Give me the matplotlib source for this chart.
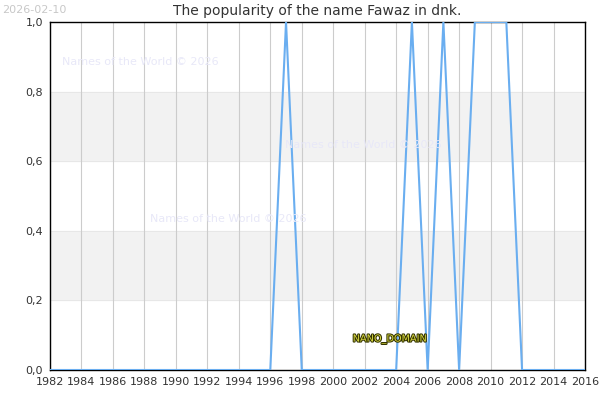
import numpy as np
import matplotlib
matplotlib.use("Agg")
import matplotlib.pyplot as plt
import matplotlib.patheffects as pe

# popularity per year (1982-2016)
years = list(range(1982, 2017))
peak_years = [1997, 2005, 2007, 2009, 2010, 2011]
values = [1.0 if y in peak_years else 0.0 for y in years]

xticks = list(range(1982, 2017, 2))
yticks = [0.0, 0.2, 0.4, 0.6, 0.8, 1.0]
ytick_labels = ["0,0", "0,2", "0,4", "0,6", "0,8", "1,0"]

fig = plt.figure(figsize=(6, 4), dpi=100)
ax = fig.add_axes([50/600, 30/400, 535/600, 348/400])

# grey bands
for lo, hi in [(0.2, 0.4), (0.6, 0.8)]:
    ax.axhspan(lo, hi, color="#f2f2f2", zorder=0)
for y in [0.2, 0.4, 0.6, 0.8]:
    ax.axhline(y, color="#e6e6e6", lw=0.6, zorder=0.5)
for x in xticks:
    ax.axvline(x, color="#cccccc", lw=0.8, zorder=0.5)

ax.plot(years, values, color="#6aaef0", lw=1.5, zorder=3)

ax.set_xlim(1982, 2016)
ax.set_ylim(0, 1.0)
ax.set_xticks(xticks)
ax.set_yticks(yticks)
ax.set_yticklabels(ytick_labels)
ax.tick_params(labelsize=8, colors="#333333", length=0, pad=5)
for s in ax.spines.values():
    s.set_color("black")
    s.set_linewidth(1.0)

ax.set_title("The popularity of the name Fawaz in dnk.", fontsize=10, color="#333333", pad=5)

fig.text(0.003, 0.988, "2026-02-10", fontsize=8, color="#c8c8c8", va="top", ha="left")

wm = "Names of the World © 2026"
for (x, y) in [(62, 62), (285, 145), (150, 219)]:
    fig.text(x/600, 1 - y/400, wm, fontsize=8, color="#e8e8f8", va="center", ha="left")

fig.text(390/600, 1 - 339/400, "NANO_DOMAIN", fontsize=7, color="#d8d840", ha="center", va="center",
         path_effects=[pe.withStroke(linewidth=1.5, foreground="#333300")])

fig.savefig("out.png", dpi=100)
